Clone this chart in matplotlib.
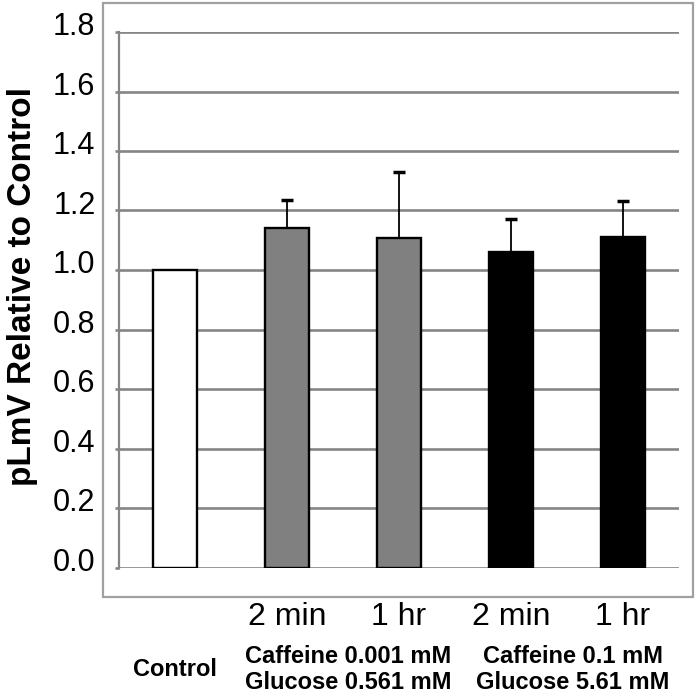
import numpy as np
import matplotlib
matplotlib.use('Agg')
import matplotlib.pyplot as plt
import matplotlib.transforms as mtransforms
from matplotlib.patches import Rectangle

plt.rcParams['font.family'] = ['Liberation Sans', 'DejaVu Sans']

# ----- data -----
x_pos = np.array([0.5, 1.5, 2.5, 3.5, 4.5])
values = [1.0, 1.14, 1.106, 1.06, 1.11]
err_up = [0.0, 0.095, 0.225, 0.112, 0.122]
bar_colors = ['white', '#808080', '#808080', 'black', 'black']
time_labels = ['', '2 min', '1 hr', '2 min', '1 hr']
group_x = [0.5, 2.05, 4.05]
group_line1 = ['', 'Caffeine 0.001 mM', 'Caffeine 0.1 mM']
group_line2 = ['', 'Glucose 0.561 mM', 'Glucose 5.61 mM']
yticks = np.arange(0, 1.81, 0.2)

grid_col = '#858585'

fig = plt.figure(figsize=(6.98, 6.95), dpi=100)
ax = fig.add_axes([119/698, 127.5/695, 560/698, 535.5/695])

# outer frame
fig.patches.append(Rectangle((103/698, 98/695), 590/698, 594.5/695,
                             transform=fig.transFigure, fill=False,
                             edgecolor='#a0a0a0', linewidth=1.6))

for y in yticks:
    ax.axhline(y, color=grid_col, linewidth=1.9, zorder=1)

ax.bar(x_pos, values, width=0.4, color=bar_colors, edgecolor='black',
       linewidth=1.7, zorder=3)
eb = ax.errorbar(x_pos[1:], values[1:], yerr=[np.zeros(4), err_up[1:]],
                 fmt='none', ecolor='black', elinewidth=1.3, capsize=4,
                 capthick=2.5, zorder=4)
# only the upper cap is drawn in the reference
eb[1][0].set_visible(False)

ax.set_xlim(0, 5)
ax.set_ylim(0, 1.8)
ax.set_xticks([])
ax.set_yticks(yticks)
ax.set_yticklabels([f'{v:.1f}' for v in yticks])
ax.tick_params(axis='y', length=3, width=1.9, color=grid_col, pad=14,
               labelsize=22)
offset = mtransforms.ScaledTranslation(0, 6/72, fig.dpi_scale_trans)
for lab in ax.get_yticklabels():
    lab.set_transform(lab.get_transform() + offset)

for side in ['top', 'right', 'bottom']:
    ax.spines[side].set_visible(False)
ax.spines['left'].set_color(grid_col)
ax.spines['left'].set_linewidth(1.6)

trans = mtransforms.blended_transform_factory(ax.transData, ax.transAxes)
for x, t in zip(x_pos, time_labels):
    ax.text(x, -0.107, t, transform=trans, ha='center', va='baseline',
            fontsize=23)
ax.text(group_x[0], -0.2026, 'Control', transform=trans, ha='center',
        va='baseline', fontsize=17, fontweight='bold')
for x, l1, l2 in zip(group_x[1:], group_line1[1:], group_line2[1:]):
    ax.text(x, -0.1775, l1, transform=trans, ha='center', va='baseline',
            fontsize=17, fontweight='bold')
    ax.text(x, -0.2275, l2, transform=trans, ha='center', va='baseline',
            fontsize=17, fontweight='bold')

fig.text(22.5/698, 1 - 286.5/695, 'pLmV Relative to Control', rotation=90,
         ha='center', va='center', fontsize=24, fontweight='bold')

fig.savefig('out.png', dpi=100)
